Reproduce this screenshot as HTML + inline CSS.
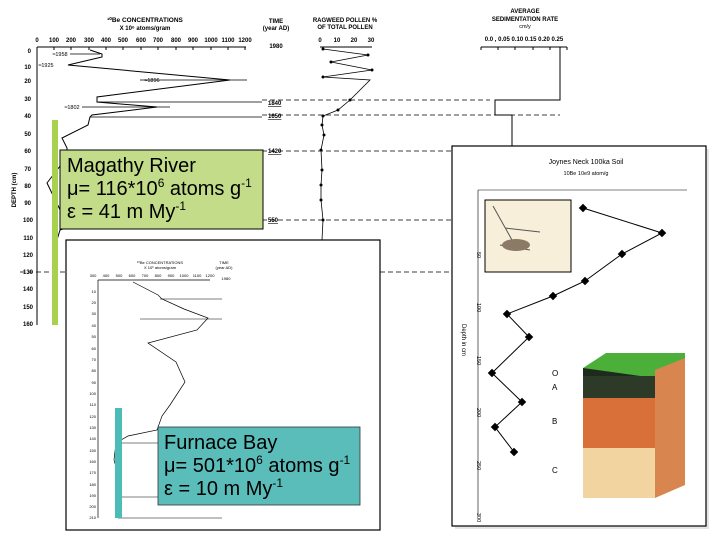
<!DOCTYPE html>
<html><head><meta charset="utf-8"><style>
html,body{margin:0;padding:0;background:#fff;}
svg{display:block;font-family:"Liberation Sans",sans-serif;}
</style></head><body>
<svg width="720" height="540" viewBox="0 0 720 540" xmlns="http://www.w3.org/2000/svg">
<rect width="720" height="540" fill="#fff"/>
<text x="145" y="22" font-size="6.5" font-weight="bold" text-anchor="middle">¹⁰Be CONCENTRATIONS</text>
<text x="145" y="30" font-size="6" font-weight="bold" text-anchor="middle">X 10⁶ atoms/gram</text>
<text x="276" y="23" font-size="6" font-weight="bold" text-anchor="middle">TIME</text>
<text x="276" y="30" font-size="6" font-weight="bold" text-anchor="middle">(year AD)</text>
<text x="345" y="22" font-size="6" font-weight="bold" text-anchor="middle">RAGWEED POLLEN %</text>
<text x="345" y="29" font-size="6" font-weight="bold" text-anchor="middle">OF TOTAL POLLEN</text>
<text x="525" y="13" font-size="6" font-weight="bold" text-anchor="middle">AVERAGE</text>
<text x="525" y="21" font-size="6" font-weight="bold" text-anchor="middle">SEDIMENTATION RATE</text>
<text x="525" y="28" font-size="5.5" text-anchor="middle">cm/y</text>
<text x="524" y="41" font-size="6" font-weight="bold" text-anchor="middle">0.0 , 0.05 0.10 0.15 0.20 0.25</text>
<g font-size="6" font-weight="bold" text-anchor="middle">
<text x="37" y="42">0</text><text x="54" y="42">100</text><text x="71" y="42">200</text><text x="89" y="42">300</text><text x="106" y="42">400</text><text x="123" y="42">500</text><text x="141" y="42">600</text><text x="158" y="42">700</text><text x="176" y="42">800</text><text x="193" y="42">900</text><text x="211" y="42">1000</text><text x="228" y="42">1100</text><text x="245" y="42">1200</text>
<text x="276" y="48">1980</text>
<text x="320" y="42">0</text><text x="337" y="42">10</text><text x="354" y="42">20</text><text x="371" y="42">30</text>
</g>
<path d="M37 47H246M320 47H372M481 47H567" stroke="#000" stroke-width="1"/>
<path d="M54 47v3M71 47v3M89 47v3M106 47v3M123 47v3M141 47v3M158 47v3M176 47v3M193 47v3M211 47v3M228 47v3M245 47v3M481 47v3M498 47v3M515 47v3M533 47v3M550 47v3M567 47v3" stroke="#000"/>
<path d="M37 47V325" stroke="#000"/>
<g font-size="6" font-weight="bold" text-anchor="end">
<text x="31" y="53">0</text><text x="31" y="69">10</text><text x="31" y="83">20</text><text x="31" y="101">30</text><text x="31" y="118">40</text><text x="31" y="136">50</text><text x="31" y="153">60</text><text x="31" y="171">70</text><text x="31" y="188">80</text><text x="31" y="205">90</text><text x="33" y="222">100</text><text x="33" y="240">110</text><text x="33" y="257">120</text><text x="33" y="274">130</text><text x="33" y="291">140</text><text x="33" y="309">150</text><text x="33" y="326">160</text>
</g>
<text x="16" y="190" font-size="6" font-weight="bold" transform="rotate(-90 16 190)" text-anchor="middle">DEPTH (cm)</text>
<polyline fill="none" stroke="#000" stroke-width="1" points="90,50 102,54 102,57 68,65 230,80 97,97 97,102 157,107 92,115 90,117 88,125 62,138 67,148 67,157 47,183 65,220 82,222 60,230 57,240 55,260"/>
<g font-size="5.5" text-anchor="middle"><text x="60" y="56">≈1958</text><text x="46" y="67">≈1925</text><text x="152" y="82">≈1896</text><text x="72" y="109">≈1802</text></g>
<path d="M70 54H100M140 80H247M97 102H262M82 107H170M90 117H262M60 220H262" stroke="#000" stroke-width="0.7"/>
<g font-size="6" font-weight="bold" text-decoration="underline"><text x="268" y="105">1840</text><text x="268" y="118">1650</text><text x="268" y="153">1420</text><text x="268" y="222">550</text></g>
<polyline fill="none" stroke="#000" stroke-width="0.8" points="323,49 368,55 331,62 372,70 323,77 370,80 350,100 338,110 323,116 322,125 324,135 321,150 322,170 321,185 321,200 323,220 322,240"/>
<g fill="#000"><circle cx="323" cy="49" r="1.5"/><circle cx="368" cy="55" r="1.5"/><circle cx="331" cy="62" r="1.5"/><circle cx="372" cy="70" r="1.5"/><circle cx="323" cy="77" r="1.5"/><circle cx="350" cy="100" r="1.5"/><circle cx="338" cy="110" r="1.5"/><circle cx="323" cy="116" r="1.5"/><circle cx="322" cy="125" r="1.5"/><circle cx="324" cy="135" r="1.5"/><circle cx="321" cy="150" r="1.5"/><circle cx="322" cy="170" r="1.5"/><circle cx="321" cy="185" r="1.5"/><circle cx="321" cy="200" r="1.5"/><circle cx="323" cy="220" r="1.5"/></g>
<g stroke="#000" stroke-width="0.8" stroke-dasharray="5,3"><path d="M262 100H490M262 115H560M262 151H455M262 220H455M20 272H455"/></g>
<path d="M560 47V100H495V115H512V150" fill="none" stroke="#000"/>
<rect x="52" y="120" width="6" height="205" fill="#a9d150"/>
<rect x="60" y="150" width="203" height="79" fill="#c3dc8a" stroke="#000" stroke-width="1"/>
<g font-size="20" fill="#000"><text x="67" y="172">Magathy River</text><text x="67" y="195">μ= 116*10<tspan font-size="12" dy="-8">6</tspan><tspan dy="8"> atoms g</tspan><tspan font-size="12" dy="-8">-1</tspan></text><text x="67" y="218">ε = 41 m My<tspan font-size="12" dy="-8">-1</tspan></text></g>
<rect x="66" y="240" width="314" height="290" fill="#fff" stroke="#000" stroke-width="1.2"/>
<g font-size="4" text-anchor="middle"><text x="160" y="264">¹⁰Be CONCENTRATIONS</text><text x="160" y="269">X 10⁶ atoms/gram</text><text x="224" y="264">TIME</text><text x="224" y="269">(year AD)</text>
<text x="93" y="277">300</text><text x="106" y="277">400</text><text x="119" y="277">500</text><text x="132" y="277">600</text><text x="145" y="277">700</text><text x="158" y="277">800</text><text x="171" y="277">900</text><text x="184" y="277">1000</text><text x="197" y="277">1100</text><text x="210" y="277">1200</text><text x="226" y="280">1980</text></g>
<path d="M98 280H210M98 280V518" stroke="#000" stroke-width="0.7"/>
<g font-size="4" text-anchor="end"><text x="96" y="293">10</text><text x="96" y="304">20</text><text x="96" y="315">30</text><text x="96" y="327">40</text><text x="96" y="338">50</text><text x="96" y="350">60</text><text x="96" y="361">70</text><text x="96" y="372">80</text><text x="96" y="384">90</text><text x="96" y="395">100</text><text x="96" y="406">110</text><text x="96" y="418">120</text><text x="96" y="429">130</text><text x="96" y="440">140</text><text x="96" y="452">150</text><text x="96" y="463">160</text><text x="96" y="474">170</text><text x="96" y="486">180</text><text x="96" y="497">190</text><text x="96" y="508">200</text><text x="96" y="519">210</text></g>
<polyline fill="none" stroke="#000" stroke-width="0.7" points="133,282 158,295 162,299 184,309 208,318 197,330 148,343 176,362 185,382 170,405 162,416 157,430 128,436 116,443 114,460 120,480 118,495 118,518"/>
<path d="M160 299H222M140 319H222M120 443H222M118 497H222M118 518H222" stroke="#000" stroke-width="0.5"/>
<rect x="115" y="408" width="7" height="110" fill="#4bbcb6"/>
<rect x="158" y="427" width="202" height="78" fill="#5bbdb9" stroke="#333" stroke-width="0.8"/>
<g font-size="20" fill="#000"><text x="164" y="449">Furnace Bay</text><text x="164" y="472">μ= 501*10<tspan font-size="12" dy="-8">6</tspan><tspan dy="8"> atoms g</tspan><tspan font-size="12" dy="-8">-1</tspan></text><text x="164" y="495">ε = 10 m My<tspan font-size="12" dy="-8">-1</tspan></text></g>
<rect x="455" y="149" width="254" height="380" fill="#ccc" opacity="0.5"/>
<rect x="452" y="146" width="254" height="380" fill="#fff" stroke="#000" stroke-width="1.2"/>
<text x="586" y="164" font-size="7" text-anchor="middle">Joynes Neck 100ka Soil</text>
<text x="586" y="175" font-size="5.5" text-anchor="middle">10Be 10e9 atom/g</text>
<path d="M478 190H687M478 190V515" stroke="#000" stroke-width="0.6"/>
<g font-size="5.5"><text x="477" y="252" transform="rotate(90 477 252)">50</text><text x="477" y="303" transform="rotate(90 477 303)">100</text><text x="477" y="356" transform="rotate(90 477 356)">150</text><text x="477" y="408" transform="rotate(90 477 408)">200</text><text x="477" y="461" transform="rotate(90 477 461)">250</text><text x="477" y="513" transform="rotate(90 477 513)">300</text></g>
<text x="462" y="340" font-size="6" transform="rotate(90 462 340)" text-anchor="middle">Depth in cm</text>
<polyline fill="none" stroke="#000" stroke-width="1" points="583,208 662,233 622,254 585,281 553,296 507,314 529,337 492,373 522,402 495,427 514,452"/>
<g fill="#000"><rect x="580" y="205" width="6" height="6" transform="rotate(45 583 208)"/><rect x="659" y="230" width="6" height="6" transform="rotate(45 662 233)"/><rect x="619" y="251" width="6" height="6" transform="rotate(45 622 254)"/><rect x="582" y="278" width="6" height="6" transform="rotate(45 585 281)"/><rect x="550" y="293" width="6" height="6" transform="rotate(45 553 296)"/><rect x="504" y="311" width="6" height="6" transform="rotate(45 507 314)"/><rect x="526" y="334" width="6" height="6" transform="rotate(45 529 337)"/><rect x="489" y="370" width="6" height="6" transform="rotate(45 492 373)"/><rect x="519" y="399" width="6" height="6" transform="rotate(45 522 402)"/><rect x="492" y="424" width="6" height="6" transform="rotate(45 495 427)"/><rect x="511" y="449" width="6" height="6" transform="rotate(45 514 452)"/></g>
<rect x="485" y="200" width="86" height="72" fill="#f7efd9" stroke="#000" stroke-width="1"/>
<path d="M493 206L512 240M505 228L540 232M500 245L530 250" stroke="#555" stroke-width="1"/>
<ellipse cx="516" cy="245" rx="14" ry="6" fill="#8a7a66"/>
<rect x="583" y="368" width="72" height="20" fill="#1e2a1c"/>
<path d="M583 368L606 353H685V368L655 378Z" fill="#4caf3a"/>
<rect x="583" y="376" width="72" height="22" fill="#2e3a28"/>
<rect x="583" y="398" width="72" height="50" fill="#d9703a"/>
<rect x="583" y="448" width="72" height="50" fill="#f2d4a0"/>
<path d="M655 370L685 358V485L655 498Z" fill="#d88550"/>
<g font-size="8"><text x="552" y="376">O</text><text x="552" y="390">A</text><text x="552" y="424">B</text><text x="552" y="473">C</text></g>
</svg>
</body></html>
